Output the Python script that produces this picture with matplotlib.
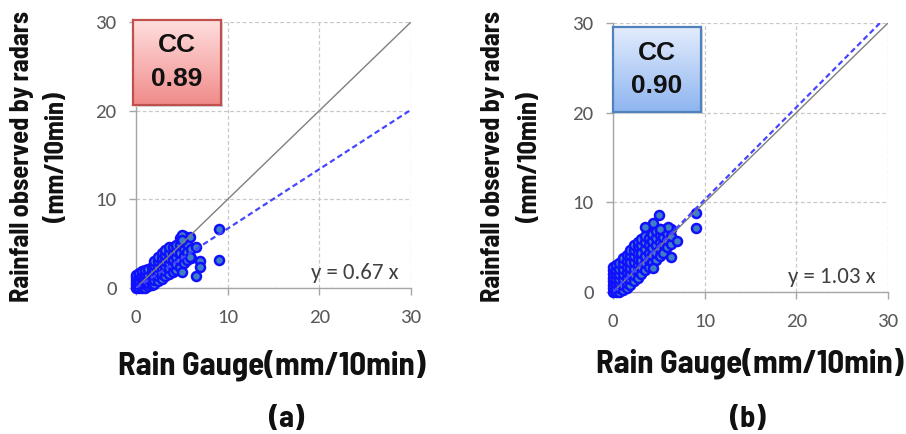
import numpy as np
import matplotlib
matplotlib.use("Agg")
import matplotlib.pyplot as plt
from matplotlib.colors import LinearSegmentedColormap

# ---------------- data ----------------
ticks = [0, 10, 20, 30]

gauge_a = [0, 0, 0, 0, 0, 0,
           0.3, 0.3, 0.3, 0.3, 0.3,
           0.6, 0.6, 0.6, 0.6, 0.6, 0.6,
           1.0, 1.0, 1.0, 1.0, 1.0, 1.0,
           1.3, 1.3, 1.3, 1.3, 1.3,
           1.7, 1.7, 1.7, 1.7, 1.7,
           2.0, 2.0, 2.0, 2.0, 2.0, 2.0,
           2.4, 2.4, 2.4, 2.4, 2.4, 2.4,
           2.8, 2.8, 2.8, 2.8, 2.8, 2.8,
           3.2, 3.2, 3.2, 3.2, 3.2, 3.2,
           3.6, 3.6, 3.6, 3.6, 3.6, 3.6,
           4.0, 4.0, 4.0, 4.0, 4.0,
           4.4, 4.4, 4.4, 4.4, 4.4,
           4.8, 4.8, 4.8, 4.8, 4.8,
           5.2, 5.2, 5.2, 5.2, 5.2,
           5.6, 5.6, 5.6,
           6.0, 6.0,
           9.0, 9.0, 7.0, 7.0, 6.5, 5.0, 5.9, 5.0, 5.0, 6.5, 5.9]
radar_a = [0, 0.3, 0.6, 0.9, 1.2, 1.5,
           0, 0.4, 0.8, 1.3, 1.7,
           0, 0.3, 0.7, 1.1, 1.5, 1.9,
           0, 0.4, 0.8, 1.2, 1.6, 2.0,
           0.2, 0.6, 1.0, 1.5, 2.1,
           0.3, 0.8, 1.3, 1.8, 2.4,
           0.4, 0.9, 1.5, 2.0, 2.6, 3.0,
           0.8, 1.3, 1.8, 2.4, 3.0, 3.5,
           1.0, 1.6, 2.2, 2.8, 3.4, 3.9,
           1.3, 1.9, 2.5, 3.1, 3.7, 4.3,
           1.6, 2.2, 2.8, 3.4, 4.0, 4.6,
           1.8, 2.5, 3.2, 3.9, 4.6,
           2.0, 2.7, 3.5, 4.2, 4.9,
           2.4, 3.2, 4.0, 4.8, 5.6,
           2.8, 3.6, 4.4, 5.2, 5.9,
           3.2, 4.1, 5.0,
           3.4, 4.4,
           6.6, 3.2, 3.1, 2.4, 1.35, 1.8, 5.7, 6.0, 5.4, 4.65, 3.5]

gauge_b = [0, 0, 0, 0, 0, 0, 0, 0,
           0.3, 0.3, 0.3, 0.3, 0.3, 0.3, 0.3,
           0.7, 0.7, 0.7, 0.7, 0.7, 0.7, 0.7,
           1.1, 1.1, 1.1, 1.1, 1.1, 1.1, 1.1,
           1.5, 1.5, 1.5, 1.5, 1.5, 1.5, 1.5,
           1.9, 1.9, 1.9, 1.9, 1.9, 1.9, 1.9,
           2.3, 2.3, 2.3, 2.3, 2.3, 2.3, 2.3,
           2.7, 2.7, 2.7, 2.7, 2.7, 2.7, 2.7,
           3.1, 3.1, 3.1, 3.1, 3.1, 3.1,
           3.5, 3.5, 3.5, 3.5, 3.5, 3.5,
           3.9, 3.9, 3.9, 3.9, 3.9,
           4.3, 4.3, 4.3, 4.3, 4.3,
           4.7, 4.7, 4.7, 4.7, 4.7,
           5.1, 5.1, 5.1, 5.1, 5.1,
           5.5, 5.5, 5.5, 5.5,
           5.9, 5.9, 5.9,
           6.3, 6.3, 6.3,
           9.0, 9.0, 5.0, 4.4, 3.45, 7.0, 6.35, 6.05, 5.15, 4.4]
radar_b = [0, 0.4, 0.8, 1.2, 1.6, 2.0, 2.4, 2.8,
           0, 0.5, 1.0, 1.5, 2.0, 2.5, 3.0,
           0, 0.5, 1.0, 1.5, 2.0, 2.6, 3.2,
           0.2, 0.8, 1.4, 2.0, 2.6, 3.2, 3.8,
           0.4, 1.0, 1.6, 2.2, 2.8, 3.5, 4.1,
           0.8, 1.4, 2.0, 2.7, 3.4, 4.1, 4.7,
           1.2, 1.9, 2.6, 3.3, 4.0, 4.7, 5.2,
           1.6, 2.3, 3.0, 3.7, 4.4, 5.1, 5.6,
           2.0, 2.8, 3.6, 4.4, 5.2, 5.9,
           2.4, 3.2, 4.0, 4.8, 5.6, 6.3,
           2.8, 3.6, 4.4, 5.2, 6.0,
           3.3, 4.1, 4.9, 5.7, 6.5,
           3.6, 4.4, 5.2, 6.0, 6.8,
           4.0, 4.8, 5.6, 6.4, 7.0,
           4.4, 5.3, 6.1, 6.9,
           5.0, 5.8, 6.6,
           5.4, 6.2, 7.0,
           8.85, 7.1, 8.55, 7.7, 7.25, 5.7, 3.9, 7.25, 7.05, 2.7]

slopes = [0.67, 1.03]
cc_values = ["0.89", "0.90"]
panel_tags = ["(a)", "(b)"]
xlabel = "Rain Gauge(mm/10min)"
ylabel_1 = "Rainfall observed by radars"
ylabel_2 = "(mm/10min)"

# ---------------- figure ----------------
W, H = 906, 434
fig = plt.figure(figsize=(W / 100, H / 100), dpi=100)

cond = ['Barlow Semi Condensed', 'Archivo Narrow', 'DejaVu Sans']
tickfont = ['Carlito', 'Lato', 'DejaVu Sans']
boxfont = ['Liberation Sans', 'DejaVu Sans']


def fx(px):
    return px / W


def fy(py):
    return (H - py) / H


panels = [
    dict(ax=(136, 22, 411, 288), box=(133, 20, 221, 105),
         c_top='#ffdede', c_bot='#f08c8a', c_edge='#c0504d',
         yl1=22, yl2=57, xl=(272, 365), tag=(287, 420),
         gx=gauge_a, gy=radar_a),
    dict(ax=(613, 23, 888, 292), box=(613, 27, 701, 112),
         c_top='#e2ecfd', c_bot='#8fb5f0', c_edge='#4f81bd',
         yl1=493, yl2=530, xl=(750, 363), tag=(748, 420),
         gx=gauge_b, gy=radar_b),
]

for i, p in enumerate(panels):
    x0, y0, x1, y1 = p['ax']
    ax = fig.add_axes([fx(x0), fy(y1), fx(x1) - fx(x0), fy(y0) - fy(y1)])
    ax.set_xlim(0, 30)
    ax.set_ylim(0, 30)
    ax.set_xticks(ticks)
    ax.set_yticks(ticks)
    ax.grid(True, color='#c8c8c8', linestyle=(0, (3, 2)), linewidth=0.9)
    ax.set_axisbelow(True)
    for s in ['top', 'right']:
        ax.spines[s].set_visible(False)
    for s in ['left', 'bottom']:
        ax.spines[s].set_color('#a6a6a6')
        ax.spines[s].set_linewidth(1.0)
    ax.tick_params(direction='out', length=5, width=1, color='#a6a6a6',
                   labelcolor='#595959', labelsize=15)
    ax.tick_params(axis='x', pad=10)
    ax.tick_params(axis='y', pad=9)
    for lab in ax.get_xticklabels() + ax.get_yticklabels():
        lab.set_family(tickfont)

    ax.scatter(p['gx'], p['gy'], s=42, facecolor='#3f7fc4', edgecolor='#1010ff',
               linewidth=1.8, zorder=3, clip_on=False)
    xx = np.array([0, 30])
    ax.plot(xx, xx, color='#7f7f7f', linewidth=1.0, zorder=4)
    ax.plot(xx, slopes[i] * xx, color='#4646ff', linewidth=1.6,
            linestyle=(0, (2.5, 1.5)), zorder=5)
    ax.text(28.6, 1.7, f"y = {slopes[i]:.2f} x", ha='right', va='center',
            fontsize=16.5, color='#404040', family=tickfont, zorder=6)

    # CC box with gradient
    bx0, by0, bx1, by1 = p['box']
    sh = fig.add_axes([fx(bx0 + 2), fy(by1 + 2), fx(bx1) - fx(bx0), fy(by0) - fy(by1)])
    sh.set_facecolor('#d9d9d9')
    sh.set_xticks([]); sh.set_yticks([])
    for s in sh.spines.values():
        s.set_visible(False)
    bax = fig.add_axes([fx(bx0), fy(by1), fx(bx1) - fx(bx0), fy(by0) - fy(by1)])
    cmap = LinearSegmentedColormap.from_list('g', [p['c_bot'], p['c_top']])
    grad = np.linspace(0, 1, 100).reshape(-1, 1)
    bax.imshow(grad, extent=[0, 1, 0, 1], origin='lower', aspect='auto', cmap=cmap)
    bax.set_xlim(0, 1); bax.set_ylim(0, 1)
    bax.set_xticks([]); bax.set_yticks([])
    for s in bax.spines.values():
        s.set_color(p['c_edge'])
        s.set_linewidth(1.6)
    bax.text(0.5, 0.70, "CC", ha='center', va='center', fontsize=19,
             fontweight='bold', family=boxfont, color='#111111')
    bax.text(0.5, 0.31, cc_values[i], ha='center', va='center', fontsize=19,
             fontweight='bold', family=boxfont, color='#111111')

    # axis labels
    yc = fy(157)
    fig.text(fx(p['yl1']), yc, ylabel_1, rotation=90, ha='center', va='center',
             fontsize=19, fontweight='bold', family=cond, color='#111111')
    fig.text(fx(p['yl2']), yc, ylabel_2, rotation=90, ha='center', va='center',
             fontsize=19, fontweight='bold', family=cond, color='#111111')
    fig.text(fx(p['xl'][0]), fy(p['xl'][1]), xlabel, ha='center', va='center',
             fontsize=23.5, fontweight='bold', family=cond, color='#111111')
    fig.text(fx(p['tag'][0]), fy(p['tag'][1]), panel_tags[i], ha='center', va='center',
             fontsize=22, fontweight='bold', family=cond, color='#111111')

fig.savefig("out.png", dpi=100)
